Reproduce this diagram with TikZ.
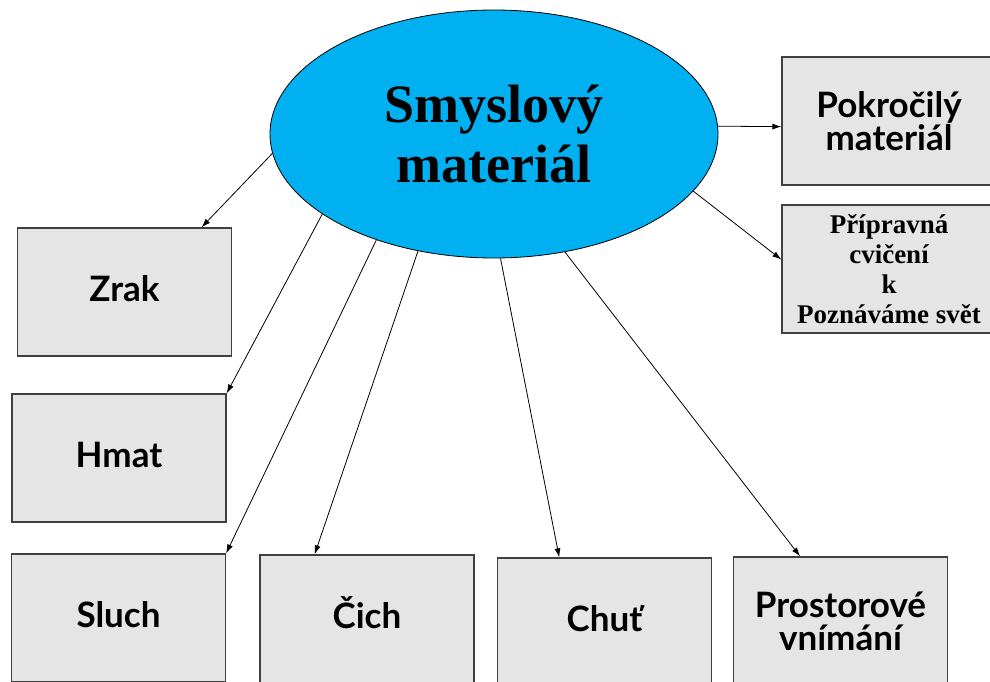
\documentclass[tikz,border=0pt]{standalone}
\usepackage{fontspec}
\setmainfont{Liberation Serif}
\setsansfont{Lato}
\usetikzlibrary{shapes.geometric, arrows.meta}

\begin{document}
\begin{tikzpicture}[
    x=1pt, y=-1pt,
    hub/.style={ellipse, draw=black, line width=0.8pt, fill=hubblue, minimum width=448pt, minimum height=248pt, inner sep=0pt, align=center, font=\rmfamily\bfseries\fontsize{54}{60}\selectfont},
    box/.style={rectangle, draw=black!75, line width=1.3pt, fill=black!10, minimum width=214pt, minimum height=128pt, inner sep=0pt, align=center, font=\sffamily\bfseries\fontsize{35}{33}\selectfont},
    onebox/.style={box, text height=19pt, text depth=0pt},
    serifbox/.style={box, font=\rmfamily\bfseries\fontsize{27}{30}\selectfont},
    link/.style={line width=0.8pt, -{Latex[length=9pt, width=6pt]}}
]

% Colours
\definecolor{hubblue}{RGB}{0,176,240}

\useasboundingbox (0,0) rectangle (990,682);

% --- Central ellipse ---
\node[hub] (hub) at (494,134) {Smyslový\\materiál};

% --- Right column ---
\node[box] (pokrocily) at (889,121) {Pokročilý\\materiál};
\node[serifbox] (pripravna) at (889,269) {Přípravná\\cvičení\\k\\Poznáváme svět};

% --- Left column ---
\node[onebox] (zrak) at (124.5,292) {Zrak};
\node[onebox] (hmat) at (119,458) {Hmat};

% --- Bottom row (cut by the page edge) ---
\node[onebox] (sluch) at (118.5,618) {Sluch};
\node[onebox] (cich) at (367,619) {Čich};
\node[onebox] (chut) at (604.5,622) {Chuť};
\node[box] (prostor) at (840.5,621) {Prostorové\\vnímání};

% --- Arrows from the ellipse ---
\draw[link] (hub.2) -- (pokrocily.183);
\draw[link] (hub.-16) -- (pripravna.175);
\draw[link] (hub.-175.4) -- (zrak.40);
\draw[link] (hub.205.9) -- (hmat.north east);
\draw[link] (hub.222.2) -- (sluch.north east);
\draw[link] (hub.237.2) -- (cich.129);
\draw[link] (hub.273.7) -- (chut.125);
\draw[link] (hub.301.4) -- (prostor.122);

\end{tikzpicture}
\end{document}
